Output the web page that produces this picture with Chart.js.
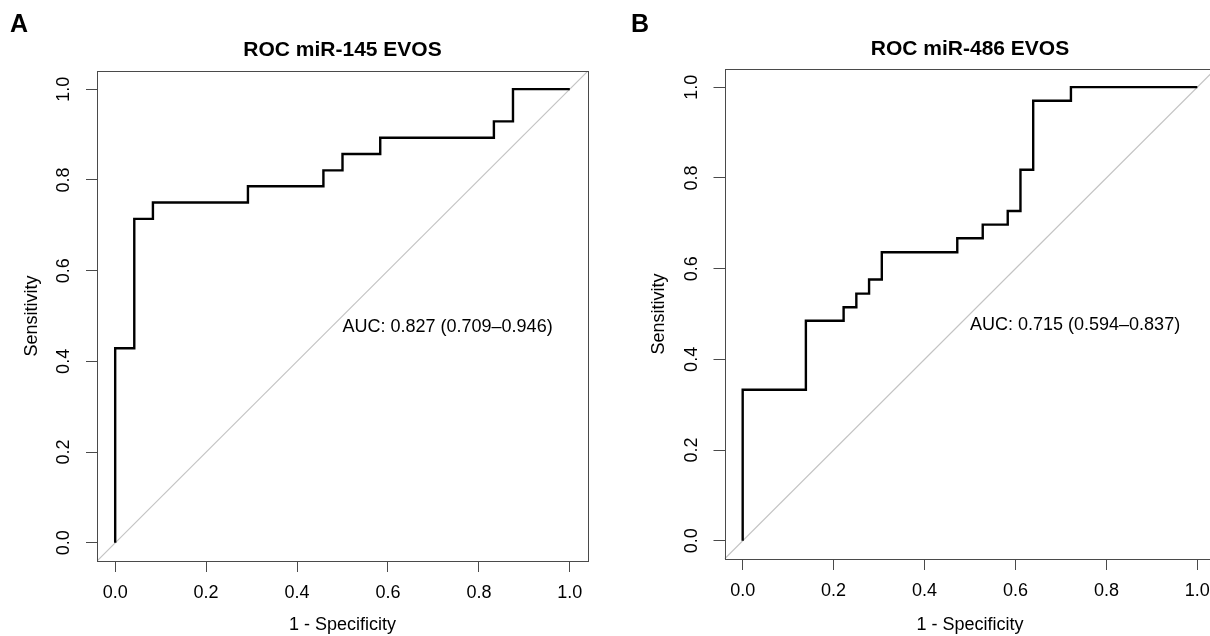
<!DOCTYPE html>
<html><head><meta charset="utf-8">
<script src="https://cdn.jsdelivr.net/npm/chart.js@4.4.1/dist/chart.umd.min.js"></script>
<style>
html,body{margin:0;padding:0;background:#fff;overflow:hidden;}
#wrap{position:relative;width:1210px;height:636px;overflow:hidden;background:#fff;}
canvas{position:absolute;top:0;}
</style></head><body>
<div id="wrap">
<canvas id="cA" width="600" height="636" style="left:0px"></canvas>
<canvas id="cB" width="630" height="636" style="left:600px"></canvas>
</div>
<script>
// ---- data ----
const tickValues = [0, 0.2, 0.4, 0.6, 0.8, 1.0];
const axisRange = [-0.04, 1.04];
const panelLetters = ['A', 'B'];
const titles = ['ROC miR-145 EVOS', 'ROC miR-486 EVOS'];
const aucLabels = ['AUC: 0.827 (0.709\u20130.946)', 'AUC: 0.715 (0.594\u20130.837)'];
const aucAnchor = [0.5, 0.5];
const xAxisTitle = '1 - Specificity';
const yAxisTitle = 'Sensitivity';

// panel A: miR-145 (1 - specificity, sensitivity)
const fprA = [0, 0, 0.042, 0.042, 0.083, 0.083, 0.292, 0.292, 0.458, 0.458, 0.5, 0.5, 0.583, 0.583, 0.833, 0.833, 0.875, 0.875, 1];
const tprA = [0, 0.429, 0.429, 0.714, 0.714, 0.75, 0.75, 0.786, 0.786, 0.821, 0.821, 0.857, 0.857, 0.893, 0.893, 0.929, 0.929, 1, 1];
// panel B: miR-486
const fprB = [0, 0, 0.139, 0.139, 0.222, 0.222, 0.25, 0.25, 0.278, 0.278, 0.306, 0.306, 0.472, 0.472, 0.528, 0.528, 0.583, 0.583, 0.611, 0.611, 0.639, 0.639, 0.722, 0.722, 1];
const tprB = [0, 0.333, 0.333, 0.485, 0.485, 0.515, 0.515, 0.545, 0.545, 0.576, 0.576, 0.636, 0.636, 0.667, 0.667, 0.697, 0.697, 0.727, 0.727, 0.818, 0.818, 0.970, 0.970, 1, 1];

// ---- style ----
const FONT = '"Liberation Sans", Arial, Helvetica, sans-serif';
Chart.defaults.font.family = FONT;
Chart.defaults.color = '#000';
const AXIS_COLOR = '#4a4a4a';

function makeDecor(letter, letterX, aucText) {
  return {
    id: 'decor',
    afterDraw(chart) {
      const {ctx, chartArea: a, scales: {x, y}} = chart;
      ctx.save();
      ctx.strokeStyle = AXIS_COLOR;
      ctx.lineWidth = 1;
      ctx.strokeRect(Math.round(a.left) + 0.5, Math.round(a.top) + 0.5,
                     Math.round(a.right - a.left), Math.round(a.bottom - a.top));
      ctx.fillStyle = '#000';
      ctx.textAlign = 'left';
      ctx.textBaseline = 'alphabetic';
      ctx.font = '18px ' + FONT;
      ctx.fillText(aucText, x.getPixelForValue(aucAnchor[0]), y.getPixelForValue(aucAnchor[1]) + 16);
      ctx.font = 'bold 25px ' + FONT;
      ctx.fillText(letter, letterX, 32);
      ctx.restore();
    }
  };
}

function buildChart(id, fpr, tpr, idx, p) {
  const roc = fpr.map((v, i) => ({x: v, y: tpr[i]}));
  const diag = axisRange.map(v => ({x: v, y: v}));
  const setTicks = s => { s.ticks = tickValues.map(v => ({value: v})); };
  const gridOpts = {display: true, drawOnChartArea: false, drawTicks: true, tickLength: 11, color: AXIS_COLOR, lineWidth: 1};
  return new Chart(document.getElementById(id), {
    type: 'scatter',
    data: {datasets: [
      {data: roc, showLine: true, borderColor: '#000', borderWidth: 2.4, pointRadius: 0, order: 0, borderJoinStyle: 'miter', borderCapStyle: 'butt'},
      {data: diag, showLine: true, borderColor: '#c4c4c4', borderWidth: 1.2, pointRadius: 0, order: 1}
    ]},
    options: {
      responsive: false, animation: false, devicePixelRatio: 1,
      events: [],
      layout: {padding: {left: 0, right: p.padRight, top: 0, bottom: 0}},
      plugins: {
        legend: {display: false},
        tooltip: {enabled: false},
        title: {display: true, text: titles[idx], fullSize: false, color: '#000',
                font: {size: 21, weight: 'bold'}, padding: {top: p.titleTop, bottom: p.titleBottom}}
      },
      scales: {
        x: {
          type: 'linear', position: 'bottom', min: axisRange[0], max: axisRange[1],
          afterBuildTicks: setTicks,
          afterFit: s => { s.height = p.xAxisH; },
          ticks: {callback: v => Number(v).toFixed(1), color: '#000', font: {size: 18}, padding: 10,
                  minRotation: 0, maxRotation: 0, autoSkip: false},
          grid: gridOpts,
          border: {display: false},
          title: {display: true, text: xAxisTitle, color: '#000', font: {size: 18}, padding: {top: 0, bottom: 0}}
        },
        y: {
          type: 'linear', position: 'left', min: axisRange[0], max: axisRange[1],
          afterBuildTicks: setTicks,
          afterFit: s => { s.width = p.yAxisW; },
          ticks: {callback: v => Number(v).toFixed(1), color: '#000', font: {size: 18}, padding: 9,
                  minRotation: 90, maxRotation: 90, crossAlign: 'center', autoSkip: false},
          grid: gridOpts,
          border: {display: false},
          title: {display: true, text: yAxisTitle, color: '#000', font: {size: 18}, padding: {top: p.yTitlePad, bottom: 0}}
        }
      }
    },
    plugins: [makeDecor(panelLetters[idx], p.letterX, aucLabels[idx])]
  });
}

buildChart('cA', fprA, tprA, 0, {padRight: 12, titleTop: 37.4, titleBottom: 8.4, xAxisH: 75, yAxisW: 97, yTitlePad: 21, letterX: 10});
buildChart('cB', fprB, tprB, 1, {padRight: 14.5, titleTop: 36.7, titleBottom: 7.1, xAxisH: 77, yAxisW: 124.5, yTitlePad: 48.7, letterX: 31});
</script>
</body></html>
